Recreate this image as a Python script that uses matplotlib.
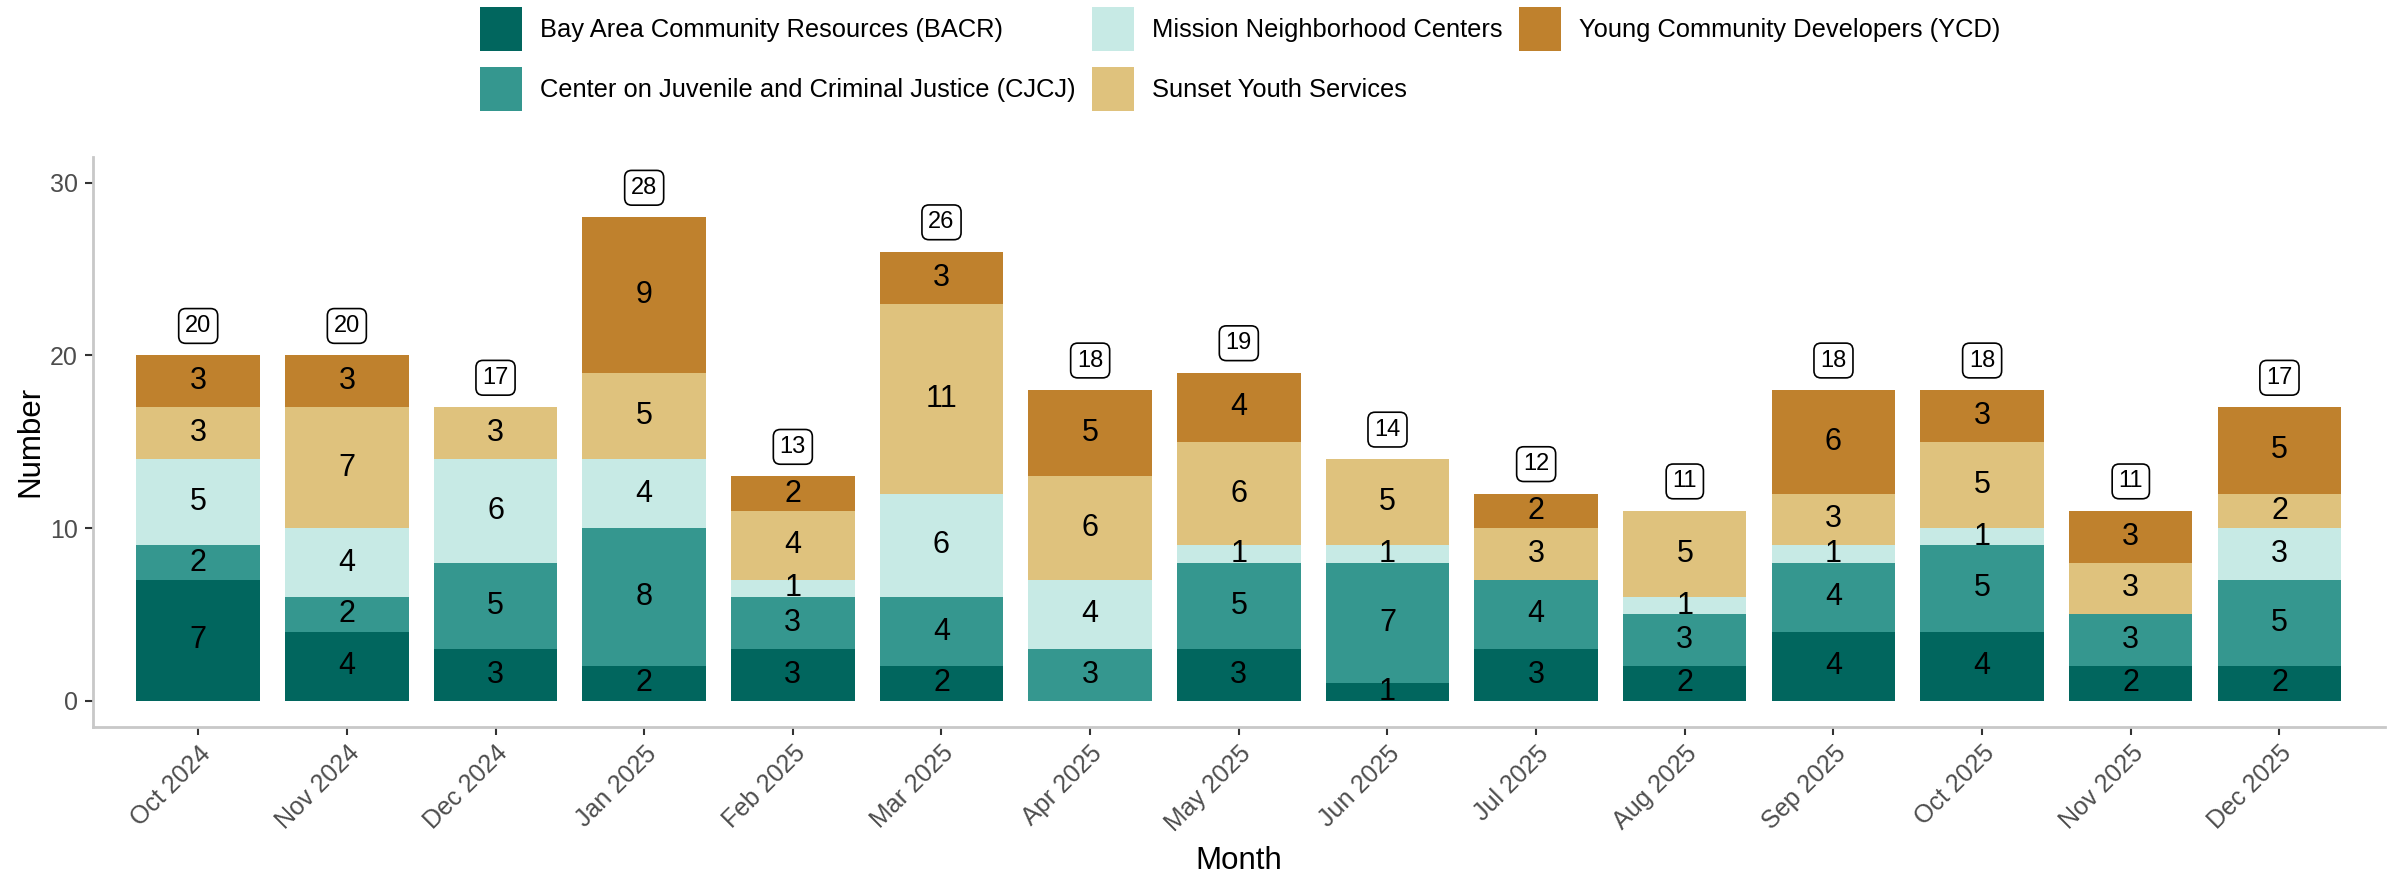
import numpy as np
import matplotlib
matplotlib.use("Agg")
import matplotlib.pyplot as plt

#------------DATA--------------------------
months = ["Oct 2024", "Nov 2024", "Dec 2024", "Jan 2025", "Feb 2025", "Mar 2025",
          "Apr 2025", "May 2025", "Jun 2025", "Jul 2025", "Aug 2025", "Sep 2025",
          "Oct 2025", "Nov 2025", "Dec 2025"]

bacr = [7, 4, 3, 2, 3, 2, 0, 3, 1, 3, 2, 4, 4, 2, 2]
cjcj = [2, 2, 5, 8, 3, 4, 3, 5, 7, 4, 3, 4, 5, 3, 5]
mission = [5, 4, 6, 4, 1, 6, 4, 1, 1, 0, 1, 1, 1, 0, 3]
sunset = [3, 7, 3, 5, 4, 11, 6, 6, 5, 3, 5, 3, 5, 3, 2]
ycd = [3, 3, 0, 9, 2, 3, 5, 4, 0, 2, 0, 6, 3, 3, 5]

providers = ["Bay Area Community Resources (BACR)",
             "Center on Juvenile and Criminal Justice (CJCJ)",
             "Mission Neighborhood Centers",
             "Sunset Youth Services",
             "Young Community Developers (YCD)"]
colors = ["#01665E", "#35978F", "#C7EAE5", "#DFC27D", "#BF812D"]

#------------PLOT--------------------------
plt.rcParams["font.family"] = ["Liberation Sans", "DejaVu Sans"]

fig = plt.figure(figsize=(24, 8.71), dpi=100)
ax = fig.add_axes([0.0386, 0.1657, 0.99375 - 0.0386, 0.8201 - 0.1657])

x = np.arange(len(months))
series = [bacr, cjcj, mission, sunset, ycd]
bottom = np.zeros(len(months))
for vals, name, col in zip(series, providers, colors):
    vals = np.array(vals)
    ax.bar(x, vals, bottom=bottom, width=0.83, color=col, label=name)
    for xi, v, b in zip(x, vals, bottom):
        if v > 0:
            ax.text(xi, b + v / 2, str(v), ha="center", va="center",
                    fontsize=22, color="black")
    bottom = bottom + vals

# totals in boxes
for xi, tot in zip(x, bottom):
    ax.text(xi, tot + 1.7, str(int(tot)), ha="center", va="center", fontsize=17,
            bbox=dict(boxstyle="round,pad=0.27,rounding_size=0.3",
                      facecolor="white", edgecolor="black", linewidth=1.2))

#---------AXES CUSTOMIZATION------------------
ax.set_xlim(-0.71, len(months) - 1 + 0.71)
ax.set_ylim(-1.5, 31.5)
ax.set_yticks([0, 10, 20, 30])
ax.set_xticks(x)
ax.set_xticklabels(months, rotation=45, ha="right", va="top",
                   rotation_mode="anchor")
ax.tick_params(axis="both", labelsize=18, labelcolor="#4D4D4D", color="#333333",
               length=5.5, width=1.5, pad=5)

for side in ["top", "right"]:
    ax.spines[side].set_visible(False)
for side in ["left", "bottom"]:
    ax.spines[side].set_color("#C8C8C8")
    ax.spines[side].set_linewidth(2)

ax.set_xlabel("Month", fontsize=22.5)
ax.set_ylabel("Number", fontsize=22.5)
ax.xaxis.set_label_coords(0.5, -0.209)
ax.yaxis.set_label_coords(-0.0208, 0.5)

fig.legend(loc="upper left", bbox_to_anchor=(0.2, 0.992), ncol=3, frameon=False,
           fontsize=18.4, handlelength=1.64, handleheight=2.27, handletextpad=0.7,
           labelspacing=0.64, columnspacing=0.66, borderpad=0, borderaxespad=0)

fig.savefig("out.png", dpi=100)
